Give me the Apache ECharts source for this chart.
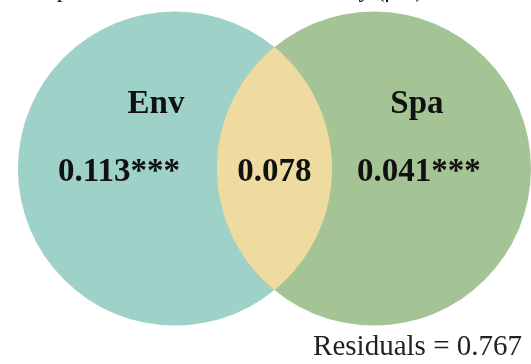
<!DOCTYPE html>
<html>
<head>
<meta charset="utf-8">
<script src="https://cdn.jsdelivr.net/npm/echarts@6/dist/echarts.min.js"></script>
<style>
  html, body { margin: 0; padding: 0; background: #fff; }
  #chart { width: 531px; height: 364px; }
</style>
</head>
<body>
<div id="chart"></div>
<script>
// Variation partitioning results
const setNames = ['Env', 'Spa'];
const uniqueFractions = [0.113, 0.041];
const uniqueSignif = ['***', '***'];
const sharedFraction = 0.078;
const residualFraction = 0.767;

// Layout (axis units: centre distance = 1)
const CENTER_X = [-0.5, 0.5];
const RADIUS = 0.789;
const NAME_POS = [[-0.595, 0.324], [0.716, 0.324]];
const VALUE_POS = [[-0.781, -0.018], [0.726, -0.018]];
const SHARED_POS = [0, -0.018];

const setColors = ['#9ed1c8', '#a5c496'];
const sharedColor = '#efdba0';
const SERIF = '"Liberation Serif", "Times New Roman", serif';

const chart = echarts.init(document.getElementById('chart'), null, { renderer: 'canvas' });

function circleItem(params, api) {
  const i = params.dataIndex;
  const c = api.coord([api.value(0), 0]);
  const r = api.size([RADIUS, 0])[0];
  return {
    type: 'circle',
    shape: { cx: c[0], cy: c[1], r: r },
    style: { fill: setColors[i] }
  };
}

function lensItem(params, api) {
  // overlap region of the two circles, sampled along both arcs
  const cL = api.coord([CENTER_X[0], 0]);
  const cR = api.coord([CENTER_X[1], 0]);
  const r = api.size([RADIUS, 0])[0];
  const d = cR[0] - cL[0];
  const a = Math.acos((d / 2) / r);
  const pts = [];
  const n = 90;
  for (let k = 0; k <= n; k++) {
    const t = -a + (2 * a) * k / n;
    pts.push([cL[0] + r * Math.cos(t), cL[1] + r * Math.sin(t)]);
  }
  for (let k = 0; k <= n; k++) {
    const t = Math.PI - a + (2 * a) * k / n;
    pts.push([cR[0] + r * Math.cos(t), cR[1] + r * Math.sin(t)]);
  }
  return {
    type: 'polygon',
    shape: { points: pts },
    style: { fill: sharedColor }
  };
}

const labelData = [];
setNames.forEach((s, i) => {
  labelData.push({ name: s, value: NAME_POS[i] });
  labelData.push({ name: uniqueFractions[i].toFixed(3) + uniqueSignif[i], value: VALUE_POS[i] });
});
labelData.push({ name: sharedFraction.toFixed(3), value: SHARED_POS });

function labelItem(params, api) {
  const p = api.coord([api.value(0), api.value(1)]);
  return {
    type: 'text',
    x: p[0],
    y: p[1],
    style: {
      text: labelData[params.dataIndex].name,
      align: 'center',
      verticalAlign: 'middle',
      fontFamily: SERIF,
      fontWeight: 'bold',
      fontSize: 33,
      fill: '#111'
    }
  };
}

chart.setOption({
  animation: false,
  grid: { left: 0, right: 0, top: 0, bottom: 0 },
  xAxis: { type: 'value', min: -1.379, max: 1.289, show: false },
  yAxis: { type: 'value', min: -0.982, max: 0.847, show: false },
  series: [
    {
      type: 'custom',
      renderItem: circleItem,
      data: CENTER_X.map(x => [x]),
      silent: true
    },
    {
      type: 'custom',
      renderItem: lensItem,
      data: [[0]],
      silent: true
    },
    {
      type: 'custom',
      renderItem: labelItem,
      data: labelData.map(d => d.value),
      silent: true
    }
  ],
  graphic: [
    {
      type: 'text',
      x: 30,
      y: -21,
      style: {
        text: '{a|Explained variation of dissimilarity (β}{b|sor}{a|)}',
        rich: {
          a: { fontFamily: SERIF, fontSize: 24, lineHeight: 24, fill: '#111' },
          b: { fontFamily: SERIF, fontSize: 15, lineHeight: 24, fill: '#111', verticalAlign: 'bottom' }
        }
      }
    },
    {
      type: 'text',
      x: 522,
      y: 347,
      style: {
        text: 'Residuals = ' + residualFraction.toFixed(3),
        align: 'right',
        verticalAlign: 'middle',
        fontFamily: SERIF,
        fontSize: 29,
        fill: '#222'
      }
    }
  ]
});
</script>
</body>
</html>
